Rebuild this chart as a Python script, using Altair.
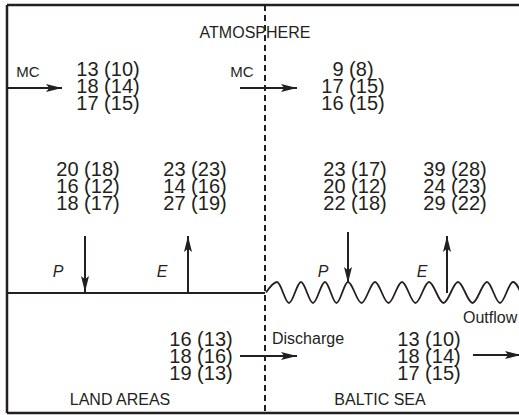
import altair as alt
import pandas as pd

# ---------------- data ----------------
mc_land_val = [13, 18, 17]
mc_land_ref = [10, 14, 15]
mc_sea_val = [9, 17, 16]
mc_sea_ref = [8, 15, 15]
p_land_val = [20, 16, 18]
p_land_ref = [18, 12, 17]
e_land_val = [23, 14, 27]
e_land_ref = [23, 16, 19]
p_sea_val = [23, 20, 22]
p_sea_ref = [17, 12, 18]
e_sea_val = [39, 24, 29]
e_sea_ref = [28, 23, 22]
discharge_val = [16, 18, 19]
discharge_ref = [13, 16, 13]
outflow_val = [13, 18, 17]
outflow_ref = [10, 14, 15]

region_labels = ["ATMOSPHERE", "LAND AREAS", "BALTIC SEA"]
flow_labels = ["MC", "MC"]
pe_labels = ["P", "E", "P", "E"]
side_labels = ["Discharge", "Outflow"]

# ---------------- layout (diagram positions) ----------------
W, H = 519, 415
INK = "#231f20"
FONT = "Liberation Sans"

blocks = [
    (mc_land_val, mc_land_ref, 108, 70),
    (mc_sea_val, mc_sea_ref, 353, 70),
    (p_land_val, p_land_ref, 88, 170),
    (e_land_val, e_land_ref, 195, 170),
    (p_sea_val, p_sea_ref, 355, 170),
    (e_sea_val, e_sea_ref, 455, 170),
    (discharge_val, discharge_ref, 201, 340),
    (outflow_val, outflow_ref, 429, 340),
]
ROW = 17
num_rows = []
for vals, refs, cx, ty in blocks:
    for i, (v, r) in enumerate(zip(vals, refs)):
        num_rows.append({"x": cx, "y": ty + i * ROW, "label": f"{v} ({r})"})
num_df = pd.DataFrame(num_rows)

region_df = pd.DataFrame({
    "x": [255, 120, 380],
    "y": [33, 400, 400],
    "label": region_labels,
})
mc_df = pd.DataFrame({"x": [28, 242], "y": [72, 72], "label": flow_labels})
pe_df = pd.DataFrame({"x": [58, 162, 323, 422], "y": [272, 272, 272, 272], "label": pe_labels})
side_df = pd.DataFrame({"x": [272, 463], "y": [339, 318], "label": side_labels})

# frame + land surface
frame_df = pd.DataFrame({
    "x": [7, 7, 7, 7],
    "y": [5, 5, 413, 293],
    "x2": [519, 7, 519, 265],
    "y2": [5, 413, 413, 293],
    "w": [2.5, 2.5, 2.5, 2.0],
})
dash_df = pd.DataFrame({"x": [265], "y": [5], "x2": [265], "y2": [413]})

# arrows: shafts and heads
arrows = [
    # x0, y0, x1(tip), y1(tip)
    (7, 88, 62, 88),
    (240, 88, 297, 88),
    (85, 236, 85, 292),
    (188, 293, 188, 236),
    (348, 232, 348, 283),
    (447, 293, 447, 236),
    (240, 356, 297, 356),
    (473, 355, 521, 355),
]
HEAD = 16
shaft_rows, head_rows = [], []
for x0, y0, x1, y1 in arrows:
    shaft_rows.append({"x": x0, "y": y0, "x2": x1, "y2": y1})
    if y0 == y1:
        ang = 0 if x1 > x0 else 180
        hx, hy = x1 - (HEAD / 2) * (1 if x1 > x0 else -1), y1
    else:
        ang = 90 if y1 > y0 else 270
        hx, hy = x1, y1 - (HEAD / 2) * (1 if y1 > y0 else -1)
    head_rows.append({"x": hx, "y": hy, "angle": ang})
shaft_df = pd.DataFrame(shaft_rows)
head_df = pd.DataFrame(head_rows)

# sea surface wave (peak / trough positions)
peaks_x = [277, 301, 325, 348, 375, 402, 429, 458, 487, 513]
PEAK_Y, TROUGH_Y, MID_Y = 282, 303, 292.5
wave_pts = [(266, MID_Y)]
for i, px in enumerate(peaks_x):
    wave_pts.append((px, PEAK_Y))
    if i + 1 < len(peaks_x):
        wave_pts.append(((px + peaks_x[i + 1]) / 2, TROUGH_Y))
wave_pts.append((525, TROUGH_Y))
wave_df = pd.DataFrame(wave_pts, columns=["x", "y"])

# ---------------- chart ----------------
xs = alt.Scale(domain=[0, W], nice=False, zero=False)
ys = alt.Scale(domain=[0, H], nice=False, zero=False, reverse=True)
X = lambda f="x": alt.X(f"{f}:Q", scale=xs, axis=None)
Y = lambda f="y": alt.Y(f"{f}:Q", scale=ys, axis=None)

frame = alt.Chart(frame_df).mark_rule(color=INK).encode(
    x=X(), y=Y(), x2="x2:Q", y2="y2:Q",
    strokeWidth=alt.StrokeWidth("w:Q", scale=None),
)
dash = alt.Chart(dash_df).mark_rule(color=INK, strokeWidth=2, strokeDash=[6, 4]).encode(
    x=X(), y=Y(), x2="x2:Q", y2="y2:Q"
)
wave = alt.Chart(wave_df).mark_line(color=INK, strokeWidth=1.8, interpolate="monotone").encode(
    x=X(), y=Y(), order="x:Q"
)
shafts = alt.Chart(shaft_df).mark_rule(color=INK, strokeWidth=2).encode(
    x=X(), y=Y(), x2="x2:Q", y2="y2:Q"
)
heads = alt.Chart(head_df).mark_point(
    shape="M1,0 L-1,-0.5 L-0.6,0 L-1,0.5 Z",
    filled=True, size=HEAD * HEAD, color=INK, opacity=1, strokeWidth=0,
).encode(x=X(), y=Y(), angle=alt.Angle("angle:Q", scale=None))

nums = alt.Chart(num_df).mark_text(
    font=FONT, fontSize=20, color=INK, align="center", baseline="middle"
).encode(x=X(), y=Y(), text="label:N")
regions = alt.Chart(region_df).mark_text(
    font=FONT, fontSize=16, color=INK, align="center", baseline="middle"
).encode(x=X(), y=Y(), text="label:N")
mcs = alt.Chart(mc_df).mark_text(
    font=FONT, fontSize=15, color=INK, align="center", baseline="middle"
).encode(x=X(), y=Y(), text="label:N")
pes = alt.Chart(pe_df).mark_text(
    font=FONT, fontSize=16, fontStyle="italic", color=INK, align="center", baseline="middle"
).encode(x=X(), y=Y(), text="label:N")
sides = alt.Chart(side_df).mark_text(
    font=FONT, fontSize=16, color=INK, align="left", baseline="middle"
).encode(x=X(), y=Y(), text="label:N")

chart = alt.layer(
    frame, dash, wave, shafts, heads, nums, regions, mcs, pes, sides
).properties(
    width=W, height=H, padding=0, autosize="none", background="white"
).configure_view(stroke=None)

chart.save("out.html", embed_options={"renderer": "svg", "actions": False})
